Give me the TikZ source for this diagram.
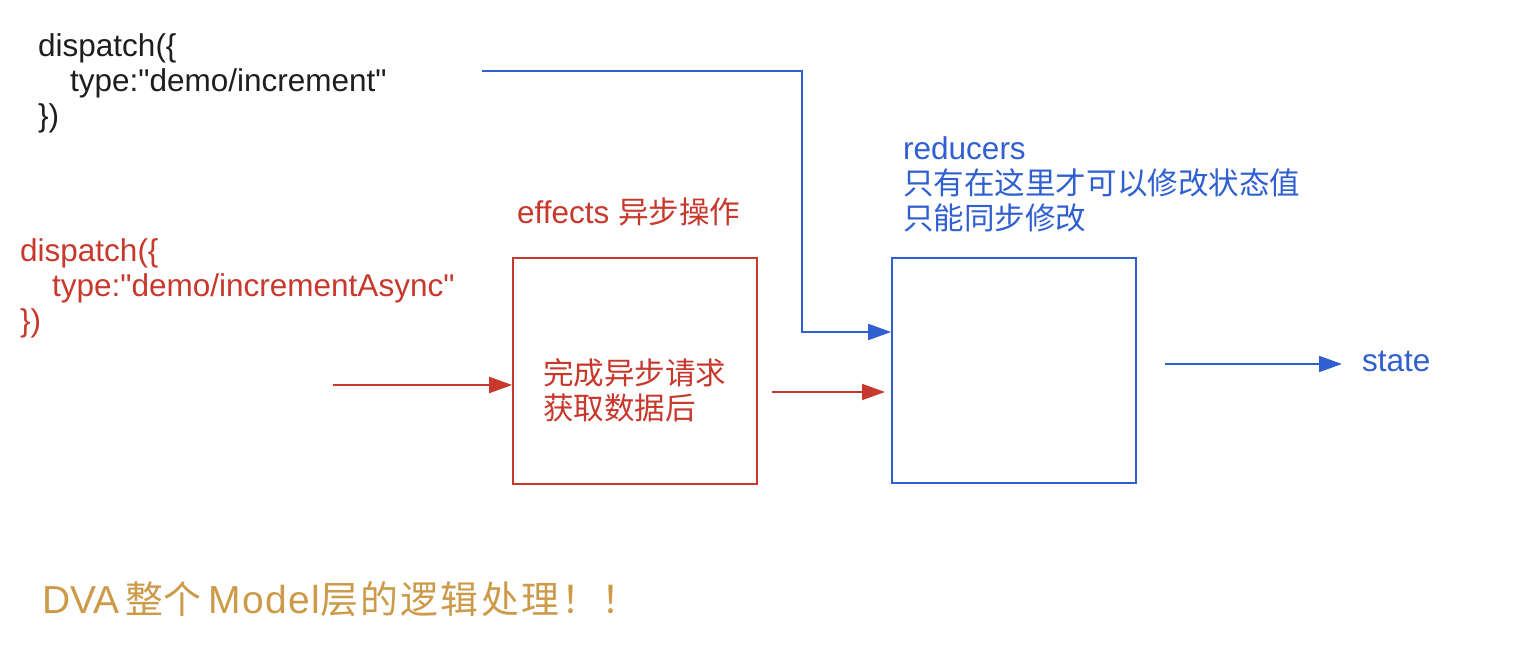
\documentclass[tikz,border=0pt]{standalone}
\usepackage{fontspec}
\setmainfont{Liberation Sans}[Ligatures=TeXOff]
\newfontfamily\cjk{Noto Sans CJK SC}[Scale=0.97]
\usetikzlibrary{arrows.meta}
\definecolor{dvablue}{HTML}{2F5FD0}
\definecolor{dvared}{HTML}{C8382C}
\definecolor{dvagold}{HTML}{CC9A48}
\definecolor{dvaink}{HTML}{1E1E1E}
\newcommand{\zh}[1]{{\cjk #1}}
\newcommand{\wide}[2]{{\addfontfeature{LetterSpace=#1}#2}}
\tikzset{
  lbl/.style={inner sep=0pt,anchor=north west,align=left,font=\fontsize{31.5}{35}\selectfont},
  flow/.style={line width=2pt,-{Triangle[length=23pt,width=16pt]}},
  box/.style={draw,line width=1.6pt,minimum width=244pt,minimum height=226pt,inner sep=0pt},
}
\begin{document}
\begin{tikzpicture}[x=1pt,y=-1pt]
    \useasboundingbox[fill=white] (0,0) rectangle (1526,652);
    % plain action
    \node[lbl,text=dvaink] (sync) at (38,33) {dispatch(\{\\\hspace*{32pt}type:"demo/increment"\\\})};
    % async action
    \node[lbl,text=dvared] (async) at (20,238) {dispatch(\{\\\hspace*{32pt}type:"demo/incrementAsync"\\\})};
    % effects
    \node[box,dvared] (effects) at (635,371) {};
    \node[lbl,text=dvared] (efftitle) at (517,198) {effects \zh{异步操作}};
    \node[lbl,text=dvared] (efftext) at (543,358) {\zh{完成异步请求}\\\zh{获取数据后}};
    % reducers
    \node[box,dvablue,minimum height=225pt] (reducers) at (1014,370.5) {};
    \node[lbl,text=dvablue] (redtitle) at (903,136) {reducers\\\zh{只有在这里才可以修改状态值}\\\zh{只能同步修改}};
    \node[inner sep=0pt,anchor=west,text=dvablue,font=\fontsize{31.5}{35}\selectfont] (state) at (1362,361) {state};
    % caption
    \node[lbl,text=dvagold,font=\fontsize{39}{42}\selectfont] (caption) at (42,581)
        {DVA\,\zh{整个}\,\wide{4}{Model}\zh{\wide{6}{层的逻辑处理！！}}};
    % connectors
    \coordinate (syncout) at (482,71);
    \coordinate (turn) at (802,332);
    \coordinate (asyncin) at (333,385);
    \coordinate (effout) at (772,392);
    \coordinate (effend) at (885,392);
    \coordinate (redout) at (1165,364);
    \coordinate (redend) at (1342,364);
    \draw[flow,dvablue] (syncout) -| (turn) -- (turn -| reducers.west);
    \draw[flow,dvared] (asyncin) -- (asyncin -| effects.west);
    \draw[flow,dvared] (effout) -- (effend);
    \draw[flow,dvablue] (redout) -- (redend);
\end{tikzpicture}
\end{document}
